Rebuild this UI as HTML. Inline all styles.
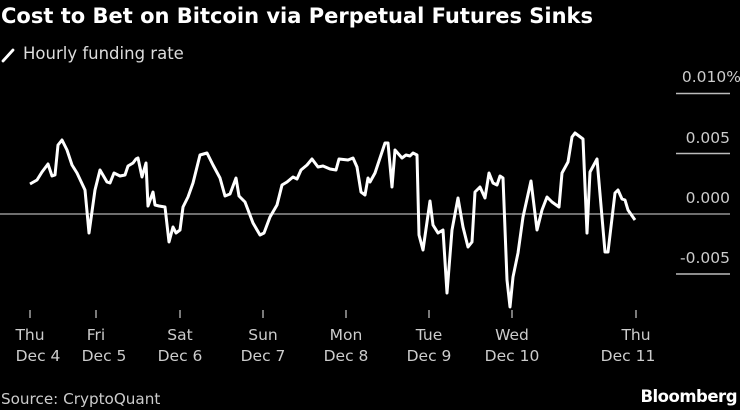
<!DOCTYPE html>
<html><head><meta charset="utf-8"><style>
body{margin:0;background:#000;width:740px;height:410px;overflow:hidden;font-family:"DejaVu Sans","Liberation Sans",sans-serif}
</style></head><body>
<svg width="740" height="410" xmlns="http://www.w3.org/2000/svg" style="display:block">
<rect width="740" height="410" fill="#000"/>
<text x="1" y="23" fill="#fff" font-weight="bold" font-size="21" font-family="DejaVu Sans, sans-serif">Cost to Bet on Bitcoin via Perpetual Futures Sinks</text>
<line x1="3" y1="61" x2="13" y2="50" stroke="#fff" stroke-width="2.8" stroke-linecap="round"/>
<text x="23" y="59" fill="#ddd" font-size="16.5" font-family="DejaVu Sans, sans-serif">Hourly funding rate</text>
<g stroke="#bbb" stroke-width="1.5">
<line x1="676" y1="93.5" x2="730" y2="93.5"/>
<line x1="676" y1="153.5" x2="730" y2="153.5"/>
<line x1="676" y1="274" x2="730" y2="274"/>
</g>
<line x1="0" y1="214" x2="730" y2="214" stroke="#ddd" stroke-width="1"/>
<g fill="#ccc" font-size="15.5" font-family="DejaVu Sans, sans-serif" text-anchor="end">
<text x="741" y="82">0.010%</text>
<text x="730" y="143">0.005</text>
<text x="730" y="203">0.000</text>
<text x="730" y="263">-0.005</text>
</g>
<polyline fill="none" stroke="#fff" stroke-width="3" stroke-linejoin="round" points="30,184 37,180 42,172 48,164 52,176 55,175 58,145 62,140 67,150 72,165 77,173 85,190 89,233 95,190 100,170 107,182 110,183 114,173 120,176 125,175 128,166 133,163 136,159 138,158 142,177 146,163 148,206 153,192 155,205 159,206 165,207 169,242 173,227 176,233 180,230 183,207 188,197 193,183 200,155 207,153 213,165 220,178 225,196 230,194 236,178 239,196 245,202 253,223 260,235 264,233 270,217 277,205 282,185 287,182 293,177 297,179 301,170 307,165 312,159 318,167 323,166 330,169 336,170 339,159 348,160 353,158 357,167 361,192 365,195 368,178 370,182 375,173 385,143 388,143 392,187 395,150 402,158 406,155 410,156 413,153 417,155 419,235 423,250 430,201 433,225 438,233 443,230 447,293 452,230 458,198 463,227 468,247 472,242 475,192 480,187 485,198 489,173 493,183 497,185 500,176 503,178 507,280 510,307 513,277 518,253 523,217 531,181 537,230 542,210 547,197 552,202 559,207 562,173 568,162 572,137 575,133 583,139 587,233 590,172 597,159 605,252 608,252 615,193 618,190 622,199 625,200 628,210 635,220"/>
<g stroke="#ccc" stroke-width="1.2">
<line x1="30" y1="310" x2="30" y2="318"/><line x1="96" y1="310" x2="96" y2="318"/>
<line x1="180" y1="310" x2="180" y2="318"/><line x1="263" y1="310" x2="263" y2="318"/>
<line x1="346" y1="310" x2="346" y2="318"/><line x1="429" y1="310" x2="429" y2="318"/>
<line x1="512" y1="310" x2="512" y2="318"/><line x1="636" y1="310" x2="636" y2="318"/>
</g>
<g fill="#ccc" font-size="15.5" font-family="DejaVu Sans, sans-serif" text-anchor="middle">
<text x="30" y="340">Thu</text><text x="38" y="361">Dec 4</text>
<text x="96" y="340">Fri</text><text x="104" y="361">Dec 5</text>
<text x="180" y="340">Sat</text><text x="180" y="361">Dec 6</text>
<text x="263" y="340">Sun</text><text x="263" y="361">Dec 7</text>
<text x="346" y="340">Mon</text><text x="346" y="361">Dec 8</text>
<text x="429" y="340">Tue</text><text x="429" y="361">Dec 9</text>
<text x="512" y="340">Wed</text><text x="512" y="361">Dec 10</text>
<text x="636" y="340">Thu</text><text x="628" y="361">Dec 11</text>
</g>
<text x="1" y="404" fill="#ccc" font-size="15.2" font-family="DejaVu Sans, sans-serif">Source: CryptoQuant</text>
<text x="737" y="402" fill="#fff" font-size="16.5" font-weight="bold" text-anchor="end" font-family="DejaVu Sans, sans-serif" letter-spacing="-0.5">Bloomberg</text>
</svg>
</body></html>
